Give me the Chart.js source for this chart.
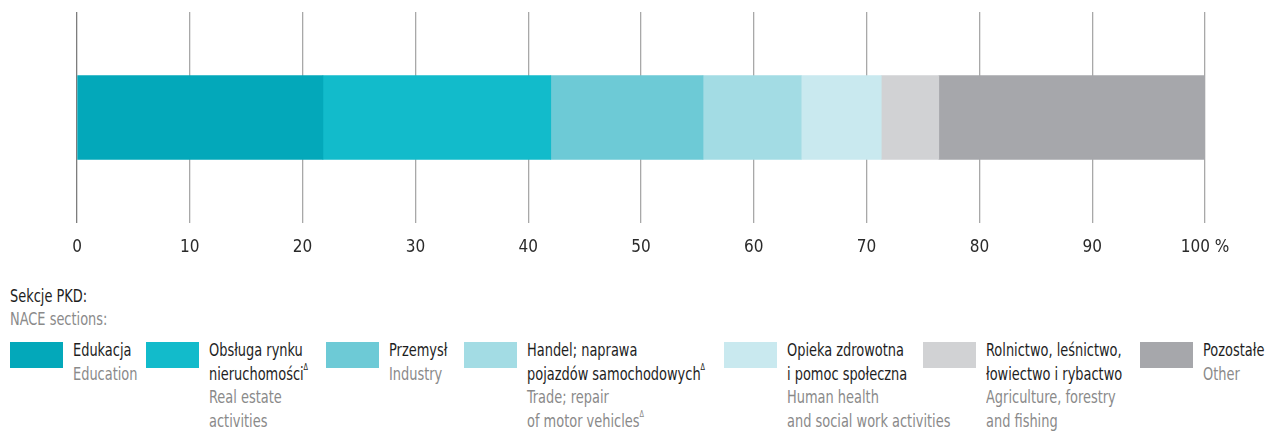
<!DOCTYPE html>
<html>
<head>
<meta charset="utf-8">
<script src="https://cdn.jsdelivr.net/npm/chart.js@4/dist/chart.umd.min.js"></script>
<style>
  body { margin: 0; background: #fff; font-family: "DejaVu Sans", sans-serif; font-stretch: condensed; }
  #wrap { position: relative; width: 1269px; height: 431px; overflow: hidden; }
  #chartBox { position: absolute; left: 0; top: 0; width: 1269px; height: 268px; }
  #head { position: absolute; left: 10px; top: 284px; font-size: 18px; line-height: 23px; transform: scaleX(0.8); transform-origin: 0 0; }
  .pl { color: #1e1e1e; }
  .en { color: #8a8a8a; }
  .item { position: absolute; top: 338px; font-size: 18px; line-height: 23.5px; }
  .sw { position: absolute; top: 4px; left: 0; width: 53px; height: 26px; }
  .txt { position: absolute; left: 63px; white-space: nowrap; transform: scaleX(0.8); transform-origin: 0 0; }
  sup { font-size: 9px; vertical-align: 10px; line-height: 0; }
</style>
</head>
<body>
<div id="wrap">
  <div id="chartBox"><canvas id="mycanvas"></canvas></div>
  <div id="head"><div class="pl">Sekcje PKD:</div><div class="en">NACE sections:</div></div>
  <div id="legend"></div>
</div>
<script>
// PKD sections, shares in %
var sectionsPl = [
    'Edukacja',
    'Obsługa rynku<br>nieruchomości<sup>Δ</sup>',
    'Przemysł',
    'Handel; naprawa<br>pojazdów samochodowych<sup>Δ</sup>',
    'Opieka zdrowotna<br>i pomoc społeczna',
    'Rolnictwo, leśnictwo,<br>łowiectwo i rybactwo',
    'Pozostałe'
];
var sectionsEn = [
    'Education',
    'Real estate<br>activities',
    'Industry',
    'Trade; repair<br>of motor vehicles<sup>Δ</sup>',
    'Human health<br>and social work activities',
    'Agriculture, forestry<br>and fishing',
    'Other'
];
var shares = [21.8, 20.2, 13.5, 8.7, 7.1, 5.1, 23.6];
var tickValues = [0, 10, 20, 30, 40, 50, 60, 70, 80, 90, 100];

var colors = ['#03a8ba', '#12bbcb', '#6dcad6', '#a3dce4', '#c9e9ef', '#d1d2d4', '#a6a7ab'];
var legendLeft = [10, 146, 326, 464, 724, 923, 1140];

var datasets = [];
for (var i in shares) {
    datasets.push({
        label: sectionsEn[i].replace(/<[^>]+>/g, ' '),
        data: [shares[i]],
        backgroundColor: colors[i],
        borderWidth: 0,
        barThickness: 84
    });
}

var ctx = document.getElementById('mycanvas');
var barGraph = new Chart(ctx, {
    type: 'bar',
    data: { labels: [''], datasets: datasets },
    options: {
        indexAxis: 'y',
        responsive: true,
        maintainAspectRatio: false,
        animation: false,
        layout: { padding: { left: 77, right: 64, top: 12, bottom: 0 } },
        plugins: { legend: { display: false }, tooltip: { enabled: false } },
        scales: {
            x: {
                stacked: true,
                min: 0,
                max: 100,
                afterBuildTicks: function (scale) {
                    scale.ticks = tickValues.map(function (v) { return { value: v }; });
                },
                afterFit: function (scale) { scale.height = 45; },
                border: { display: false },
                grid: {
                    drawTicks: false,
                    lineWidth: 1.3,
                    color: function (c) { return c.tick && c.tick.value === 0 ? '#7d7d7d' : '#a8a8a8'; }
                },
                ticks: {
                    padding: 14,
                    color: '#2a2a2a',
                    font: { family: '"DejaVu Sans", sans-serif', size: 17, weight: 'condensed' },
                    maxRotation: 0,
                    callback: function (v) { return v === 100 ? '100 %' : v; }
                }
            },
            y: {
                stacked: true,
                display: false
            }
        }
    }
});

var legend = document.getElementById('legend');
for (var j in sectionsPl) {
    var item = document.createElement('div');
    item.className = 'item';
    item.style.left = legendLeft[j] + 'px';
    item.innerHTML = '<div class="sw" style="background:' + colors[j] + '"></div>' +
        '<div class="txt"><div class="pl">' + sectionsPl[j] + '</div><div class="en">' + sectionsEn[j] + '</div></div>';
    legend.appendChild(item);
}
</script>
</body>
</html>
